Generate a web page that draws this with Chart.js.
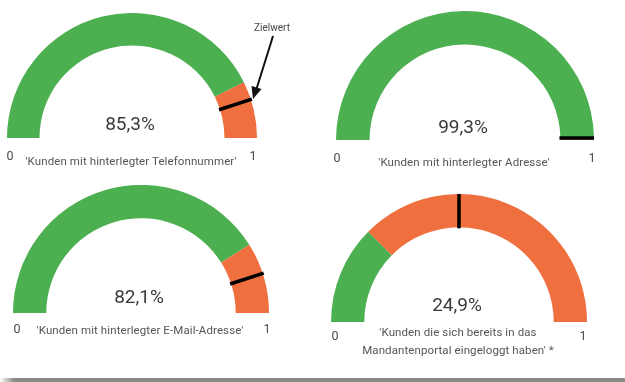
<!DOCTYPE html>
<html>
<head>
<meta charset="utf-8">
<script src="https://cdn.jsdelivr.net/npm/chart.js@4/dist/chart.umd.min.js"></script>
<style>
  html, body { margin: 0; padding: 0; background: #fff; }
  body { width: 625px; height: 382px; position: relative; overflow: hidden; font-family: Roboto, "Open Sans", sans-serif; }
  canvas { position: absolute; }
  .t { position: absolute; transform: translate(-50%, -50%); white-space: nowrap; }
  .pct { font-size: 19px; color: #3a3a3a; }
  .cap { font-size: 11.5px; color: #555; text-align: center; line-height: 18px; letter-spacing: 0.1px; }
  .tick { font-size: 12.5px; color: #4a4a4a; }
  .ziel { font-size: 10px; color: #444; }
  .bar { position: absolute; left: 0; top: 378px; width: 625px; height: 4px; background: linear-gradient(to right, #fff 0px, #8a8a8a 14px, #8a8a8a 100%); }
</style>
</head>
<body>
<script>
// ---- data ----
const gaugeValues   = [0.853, 0.993, 0.821, 0.249];   // share reached (green)
const targetValues  = [0.9, 1.0, 0.9, 0.5];           // target marker (Zielwert)
const percentLabels = ["85,3%", "99,3%", "82,1%", "24,9%"];
const captions = [
  ["'Kunden mit hinterlegter Telefonnummer'"],
  ["'Kunden mit hinterlegter Adresse'"],
  ["'Kunden mit hinterlegter E-Mail-Adresse'"],
  ["'Kunden die sich bereits in das", "Mandantenportal eingeloggt haben' *"]
];
const tickLabels = ["0", "1"];
const annotationText = "Zielwert";

// ---- layout (positions / sizes) ----
const layout = [
  { cx: 132, cy: 138, r: 125, pctY: 123, tickY: 155, capY: 161, t0x: 10, t1x: 253 },
  { cx: 465, cy: 140, r: 129, pctY: 126, tickY: 157, capY: 162, t0x: 337, t1x: 592 },
  { cx: 141, cy: 313, r: 128, pctY: 296, tickY: 328, capY: 330, t0x: 17, t1x: 267 },
  { cx: 459, cy: 322, r: 128, pctY: 304, tickY: 335, capY: 332, t0x: 335, t1x: 583 }
];
const GREEN = '#4caf50', ORANGE = '#ef6f3e';

const markerPlugin = {
  id: 'marker',
  afterDatasetsDraw(chart, args, opts) {
    const arc = chart.getDatasetMeta(0).data[0];
    if (!arc) return;
    const { x, y, innerRadius, outerRadius } = arc.getProps(['x','y','innerRadius','outerRadius'], true);
    const a = -Math.PI + opts.target * Math.PI;
    const ctx = chart.ctx;
    const dy = opts.target >= 1 ? 2 : 0;
    ctx.save();
    ctx.strokeStyle = '#000';
    ctx.lineWidth = 3.5;
    ctx.beginPath();
    ctx.moveTo(x + (innerRadius - 1) * Math.cos(a), y + (innerRadius - 1) * Math.sin(a) - dy);
    ctx.lineTo(x + (outerRadius + 1) * Math.cos(a), y + (outerRadius + 1) * Math.sin(a) - dy);
    ctx.stroke();
    ctx.restore();
  }
};

function addText(cls, x, y, html) {
  const d = document.createElement('div');
  d.className = 't ' + cls;
  d.style.left = x + 'px';
  d.style.top = y + 'px';
  d.innerHTML = html;
  document.body.appendChild(d);
  return d;
}

gaugeValues.forEach((v, i) => {
  const L = layout[i];
  const c = document.createElement('canvas');
  c.width = 2 * L.r; c.height = L.r;
  c.style.left = (L.cx - L.r) + 'px';
  c.style.top = (L.cy - L.r) + 'px';
  c.style.width = 2 * L.r + 'px'; c.style.height = L.r + 'px';
  document.body.appendChild(c);
  new Chart(c, {
    type: 'doughnut',
    data: {
      labels: ['erreicht', 'offen'],
      datasets: [{
        data: [v, 1 - v],
        backgroundColor: [GREEN, ORANGE],
        borderWidth: 0, offset: 0, hoverOffset: 0, spacing: 0
      }]
    },
    options: {
      responsive: false, animation: false, devicePixelRatio: 1,
      rotation: -90, circumference: 180, cutout: '74%',
      layout: { padding: 0 },
      plugins: { legend: { display: false }, tooltip: { enabled: false }, marker: { target: targetValues[i] } },
      events: []
    },
    plugins: [markerPlugin]
  });
  addText('pct', L.cx - 2, L.pctY, percentLabels[i]);
  addText('tick', L.t0x, L.tickY, tickLabels[0]);
  addText('tick', L.t1x, L.tickY, tickLabels[1]);
  const capCenter = captions[i].length > 1 ? L.capY + 9 : L.capY;
  addText('cap', L.cx - 1, capCenter, captions[i].join('<br>'));
});

addText('ziel', 272, 27, annotationText);
const svgNS = 'http://www.w3.org/2000/svg';
const svg = document.createElementNS(svgNS, 'svg');
svg.setAttribute('width', 625); svg.setAttribute('height', 382);
svg.style.position = 'absolute'; svg.style.left = '0'; svg.style.top = '0';
svg.innerHTML = '<line x1="273" y1="36" x2="256.5" y2="89" stroke="#111" stroke-width="2"/>' +
                '<polygon points="253,99 251.5,86 261.5,89" fill="#111"/>';
document.body.appendChild(svg);

const bar = document.createElement('div');
bar.className = 'bar';
document.body.appendChild(bar);
</script>
</body>
</html>
